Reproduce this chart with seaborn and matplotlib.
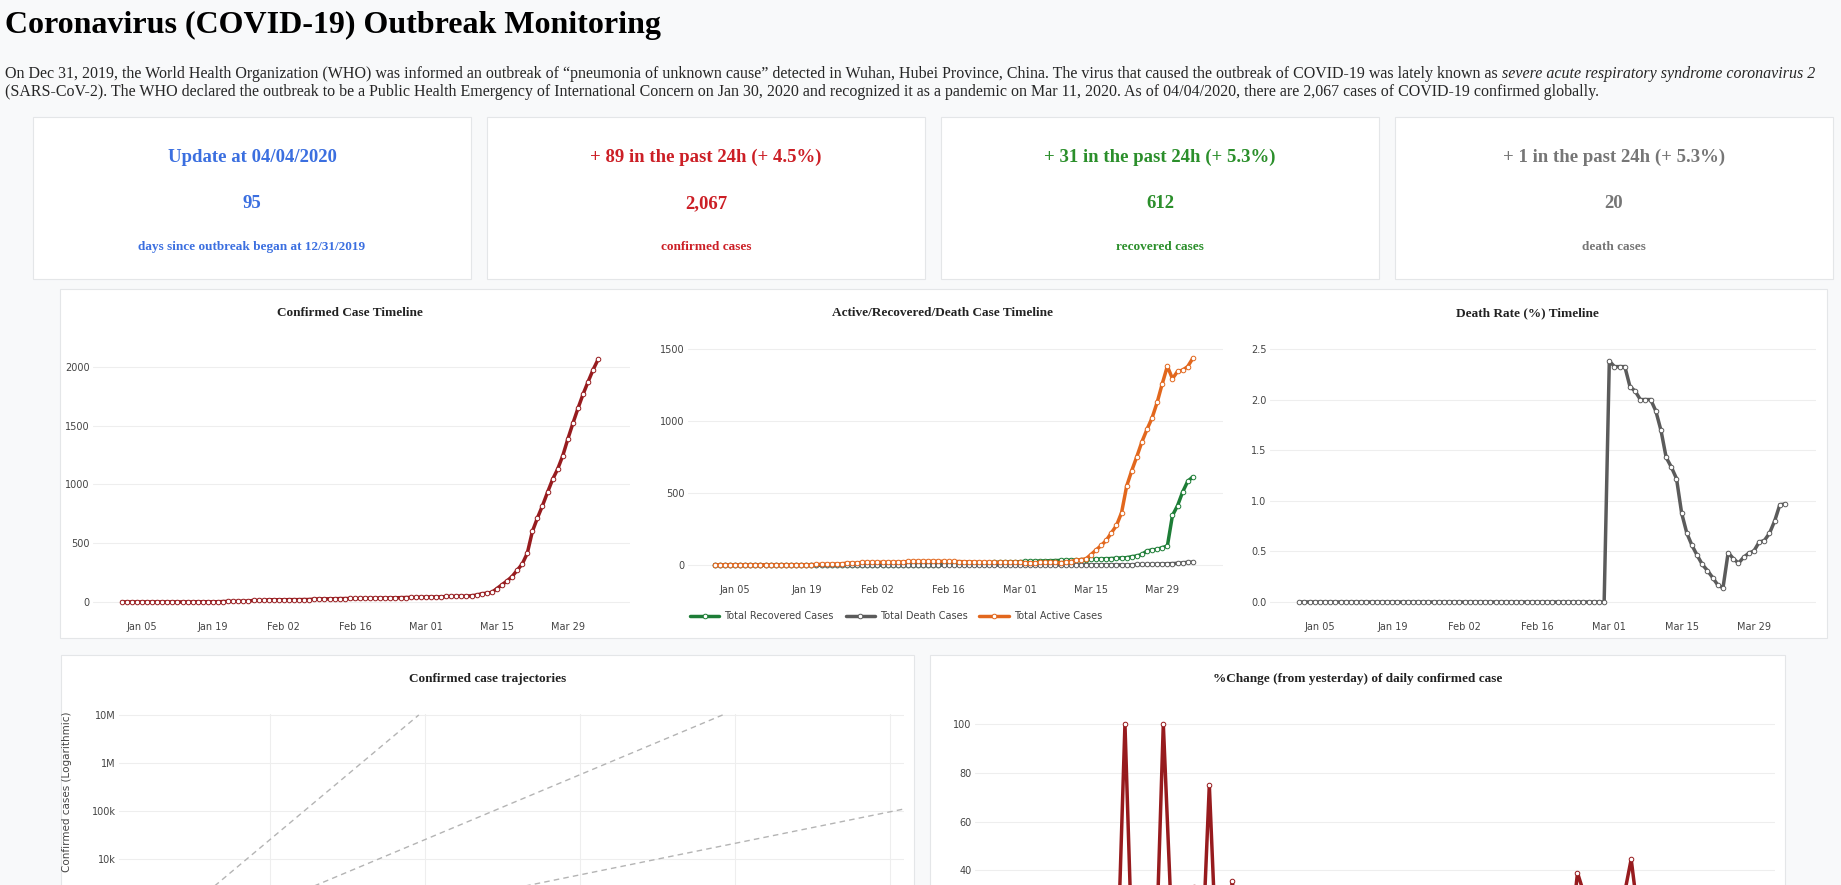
import numpy as np
import pandas as pd
import matplotlib
matplotlib.use('Agg')
import matplotlib.pyplot as plt
from matplotlib.patches import Rectangle
import seaborn as sns

W, H = 1841, 885

# ---------------------------------------------------------------- data
dates = pd.date_range('2020-01-01', '2020-04-04', freq='D')

confirmed = ([1] * 15 + [2] * 5 +
             [4, 5, 6, 6, 8, 8, 14, 14, 14, 19,
              19, 19, 19, 20, 20, 20, 21, 21, 25, 26,
              27, 27, 28, 29, 29, 30, 30, 31, 32, 32,
              33, 34, 34, 35, 36, 37, 38, 39, 40, 41,
              42, 43, 43, 43, 47, 48, 50, 50, 50, 53,
              59, 70, 75, 82, 114, 147, 179, 217, 270, 323,
              415, 600, 715, 820, 934, 1044, 1132, 1245, 1387, 1521,
              1648, 1768, 1875, 1978, 2067])

recovered = [0] * 40 + [1, 1, 2, 2, 3, 4, 5, 6, 8, 9,
                        11, 12, 14, 15, 16, 18, 19, 20, 21, 22,
                        23, 25, 26, 27, 28, 29, 30, 31, 32, 33,
                        34, 35, 36, 38, 40, 41, 42, 44, 45, 47,
                        50, 51, 58, 63, 74, 98, 105, 109, 121, 132,
                        344, 412, 507, 581, 612]

deaths = [0] * 60 + [1] * 23 + [4, 4, 4, 5, 6, 7, 9, 10, 12, 15, 19, 20]

tick_dates = ['2020-01-05', '2020-01-19', '2020-02-02', '2020-02-16',
              '2020-03-01', '2020-03-15', '2020-03-29']
tick_labels = ['Jan 05', 'Jan 19', 'Feb 02', 'Feb 16', 'Mar 01', 'Mar 15', 'Mar 29']

# reference trajectories (start / end points)
traj_start_day = [0, 0, 0]
traj_start_cases = [50, 50, 50]
traj_end_day = [19.6, 39.2, 50.9]
traj_end_cases = [1e7, 1e7, 1.1e5]
log_ticks = [1e4, 1e5, 1e6, 1e7]
log_labels = ['10k', '100k', '1M', '10M']
pct_ticks = [40, 60, 80, 100]

card_heads = ['Update at 04/04/2020', '+ 89 in the past 24h (+ 4.5%)',
              '+ 31 in the past 24h (+ 5.3%)', '+ 1 in the past 24h (+ 5.3%)']
card_values = ['95', '2,067', '612', '20']
card_notes = ['days since outbreak began at 12/31/2019', 'confirmed cases',
              'recovered cases', 'death cases']
card_colors = ['#3b6fe0', '#cc1f26', '#2b8f2b', '#767676']

df = pd.DataFrame({'date': dates, 'confirmed': confirmed,
                   'recovered': recovered, 'deaths': deaths})
df['day'] = (df['date'] - df['date'].iloc[0]).dt.days
df['active'] = df['confirmed'] - df['recovered'] - df['deaths']
df['death_rate'] = df['deaths'] / df['confirmed'] * 100
df['pct'] = df['confirmed'].pct_change() * 100
tick_pos = [(pd.Timestamp(d) - dates[0]).days for d in tick_dates]

RED = '#971b1e'
GREEN = '#1d7d36'
GREY = '#5b5b5b'
ORANGE = '#e2671d'

# ---------------------------------------------------------------- figure
sns.set_style('white')
plt.rcParams['font.family'] = ['DejaVu Sans']
SERIF = 'Liberation Serif'

fig = plt.figure(figsize=(W / 100, H / 100), dpi=100, facecolor='#f8f9fa')


def px_axes(x0, y0, x1, y1):
    return fig.add_axes([x0 / W, 1 - y1 / H, (x1 - x0) / W, (y1 - y0) / H])


def box(x0, y0, x1, y1):
    fig.add_artist(Rectangle((x0 / W, 1 - y1 / H), (x1 - x0) / W, (y1 - y0) / H,
                             transform=fig.transFigure, facecolor='white',
                             edgecolor='#e4e6e8', lw=0.8, zorder=-1))


def text_px(x, y, s, **kw):
    return fig.text(x / W, 1 - y / H, s, **kw)


def style(ax, xlim, ylim):
    ax.set_xlim(*xlim)
    ax.set_ylim(*ylim)
    ax.set_facecolor('none')
    for sp in ax.spines.values():
        sp.set_visible(False)
    ax.grid(axis='y', color='#eeeeee', lw=0.8)
    ax.set_axisbelow(True)
    ax.tick_params(length=0, labelsize=7, labelcolor='#444444')
    ax.tick_params(axis='x', pad=6)
    ax.tick_params(axis='y', pad=2.5)
    ax.set_xlabel('')
    ax.set_ylabel('')


def line(ax, col, color, label=None):
    sns.lineplot(data=df, x='day', y=col, ax=ax, color=color, lw=2.5,
                 marker='o', markersize=3.3, markerfacecolor='white',
                 markeredgecolor=color, markeredgewidth=0.7, label=label,
                 legend=False if label is None else 'auto')


# header
text_px(5, 25, 'Coronavirus (COVID-19) Outbreak Monitoring', family=SERIF,
        fontsize=23, fontweight='bold', color='black', va='center')
p1 = text_px(5, 74, 'On Dec 31, 2019, the World Health Organization (WHO) was informed an '
             'outbreak of \u201cpneumonia of unknown cause\u201d detected in Wuhan, Hubei '
             'Province, China. The virus that caused the outbreak of COVID-19 was lately '
             'known as', family=SERIF, fontsize=11.5, va='center')
renderer = fig.canvas.get_renderer()
bb = p1.get_window_extent(renderer=renderer)
fig.text((bb.x1 + 4) / W, 1 - 74 / H, 'severe acute respiratory syndrome coronavirus 2',
         family=SERIF, fontsize=11.5, style='italic', va='center')
text_px(5, 92, '(SARS-CoV-2). The WHO declared the outbreak to be a Public Health Emergency '
        'of International Concern on Jan 30, 2020 and recognized it as a pandemic on '
        'Mar 11, 2020. As of 04/04/2020, there are 2,067 cases of COVID-19 confirmed globally.',
        family=SERIF, fontsize=11.5, va='center')

# cards
card_x = [(33, 471), (487, 925), (941, 1379), (1395, 1833)]
for (x0, x1), head, val, note, c in zip(card_x, card_heads, card_values,
                                        card_notes, card_colors):
    box(x0, 117, x1, 279)
    cx = (x0 + x1) / 2
    text_px(cx, 157, head, family=SERIF, fontsize=13.5, fontweight='bold',
            color=c, ha='center', va='center')
    text_px(cx, 204, val, family=SERIF, fontsize=13.5, fontweight='bold',
            color=c, ha='center', va='center')
    text_px(cx, 247, note, family=SERIF, fontsize=9.5, fontweight='bold',
            color=c, ha='center', va='center')

# panels
box(60, 289, 1827, 638)
box(61, 655, 914, H + 20)
box(930, 655, 1785, H + 20)

title_kw = dict(family=SERIF, fontsize=9.5, fontweight='bold', color='#222222',
                ha='center', va='center')
text_px(350, 313, 'Confirmed Case Timeline', **title_kw)
text_px(943, 313, 'Active/Recovered/Death Case Timeline', **title_kw)
text_px(1527, 313, 'Death Rate (%) Timeline', **title_kw)
text_px(488, 679, 'Confirmed case trajectories', **title_kw)
text_px(1358, 679, '%Change (from yesterday) of daily confirmed case', **title_kw)

# confirmed timeline
ax1 = px_axes(93, 335, 630, 614)
line(ax1, 'confirmed', RED)
style(ax1, (-5.66, 100.26), (-102, 2272))
ax1.set_yticks([0, 500, 1000, 1500, 2000])
ax1.set_xticks(tick_pos, tick_labels)

# active / recovered / death timeline
ax2 = px_axes(688, 335, 1223, 577)
line(ax2, 'recovered', GREEN, 'Total Recovered Cases')
line(ax2, 'deaths', GREY, 'Total Death Cases')
line(ax2, 'active', ORANGE, 'Total Active Cases')
style(ax2, (-5.25, 99.94), (-83, 1597))
ax2.set_yticks([0, 500, 1000, 1500])
ax2.set_xticks(tick_pos, tick_labels)
ax2.legend(loc='upper left', bbox_to_anchor=(690 / W, 1 - 611 / H),
           bbox_transform=fig.transFigure, ncol=3, frameon=False, fontsize=7,
           labelcolor='#444444', handlelength=3.0, handletextpad=0.55,
           columnspacing=1.2, borderaxespad=0, borderpad=0)

# death rate timeline
ax3 = px_axes(1270, 335, 1816, 614)
line(ax3, 'death_rate', GREY)
style(ax3, (-5.67, 100.0), (-0.119, 2.638))
ax3.set_yticks([0, 0.5, 1.0, 1.5, 2.0, 2.5], ['0.0', '0.5', '1.0', '1.5', '2.0', '2.5'])
ax3.set_xticks(tick_pos, tick_labels)

# trajectories (log scale); the lower part of this panel is below the page fold
ax4 = px_axes(119, 714, 904, 1050)
for d0, c0, d1, c1 in zip(traj_start_day, traj_start_cases, traj_end_day, traj_end_cases):
    sns.lineplot(x=[d0, d1], y=[c0, c1], ax=ax4, color='#b4b4b4', lw=1.0,
                 dashes=False, linestyle=(0, (4, 3)))
ax4.set_yscale('log')
style(ax4, (0.26, 50.9), (10 ** 0.02, 10 ** 7.02))
ax4.grid(axis='both', color='#eeeeee', lw=0.8)
ax4.set_yticks(log_ticks, log_labels)
ax4.minorticks_off()
ax4.set_xticks([10, 20, 30, 40, 50], [''] * 5)
text_px(67, 712, 'Confirmed cases (Logarithmic)', rotation=90, ha='center', va='top',
        fontsize=7.5, color='#444444')

# % change of daily confirmed
ax5 = px_axes(975, 700, 1775, 1000)
line(ax5, 'pct', RED)
style(ax5, (-4.55, 99.75), (-13.1, 109.8))
ax5.set_yticks(pct_ticks)
ax5.set_xticks([])

fig.savefig('out.png', dpi=100, facecolor=fig.get_facecolor())
